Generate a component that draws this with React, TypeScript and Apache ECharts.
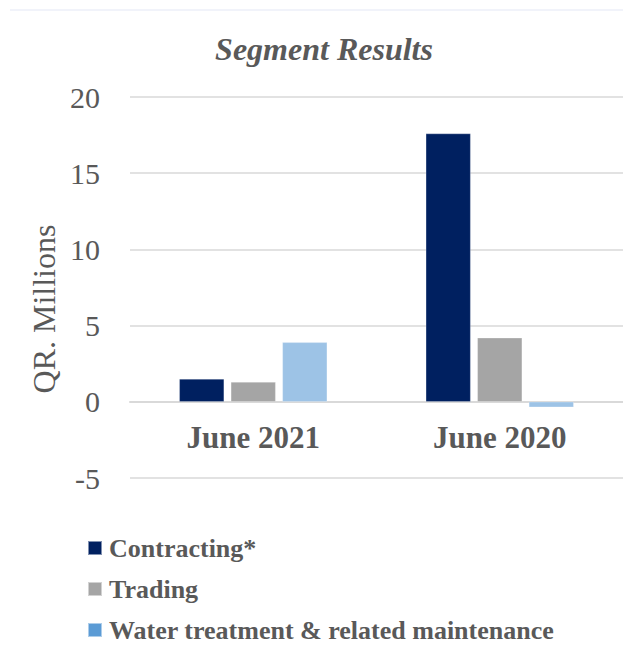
import React, { useEffect, useRef } from "react";
import * as echarts from "echarts";

const categories = ["June 2021", "June 2020"];
const contracting = [1.5, 17.6];
const trading = [1.3, 4.2];
const water = [3.9, -0.35];
const seriesNames = ["Contracting*", "Trading", "Water treatment & related maintenance"];
const yTicks = { min: -5, max: 20, interval: 5 };

const FONT = '"Liberation Serif", "Times New Roman", serif';
const TEXT = "#595959";
const GRID_TOP = 97;
const GRID_BOTTOM_PX = 478;

export default function App() {
  const ref = useRef<HTMLDivElement>(null);
  useEffect(() => {
    document.body.style.margin = "0";
    const chart = echarts.init(ref.current!, null, { renderer: "svg" });
    // distance from the bottom of the grid (min value) up to the zero line
    const zeroOffset =
      ((0 - yTicks.min) / (yTicks.max - yTicks.min)) * (GRID_BOTTOM_PX - GRID_TOP);
    chart.setOption({
      animation: false,
      backgroundColor: "#ffffff",
      title: {
        text: "Segment Results",
        left: 324,
        top: 33,
        padding: 0,
        textAlign: "center",
        textStyle: {
          fontFamily: FONT,
          fontSize: 32,
          fontWeight: "bold",
          fontStyle: "italic",
          color: TEXT,
        },
      },
      legend: {
        orient: "vertical",
        left: 87,
        top: 535,
        padding: 0,
        itemWidth: 14,
        itemHeight: 14,
        itemGap: 15,
        icon: "rect",
        data: [
          { name: seriesNames[0], itemStyle: { color: "#002060" } },
          { name: seriesNames[1], itemStyle: { color: "#A5A5A5" } },
          { name: seriesNames[2], itemStyle: { color: "#5B9BD5" } },
        ],
        textStyle: {
          fontFamily: FONT,
          fontSize: 26,
          fontWeight: "bold",
          color: TEXT,
          lineHeight: 26,
          padding: [0, 0, 0, 2],
        },
      },
      grid: { left: 130, right: -7, top: GRID_TOP, bottom: 647 - GRID_BOTTOM_PX, containLabel: false },
      xAxis: {
        type: "category",
        data: categories,
        offset: -zeroOffset,
        axisLine: { onZero: false, lineStyle: { color: "#D9D9D9", width: 2 } },
        axisTick: { show: false },
        axisLabel: {
          margin: 20,
          fontFamily: FONT,
          fontSize: 31,
          fontWeight: "bold",
          color: TEXT,
        },
      },
      yAxis: {
        type: "value",
        min: yTicks.min,
        max: yTicks.max,
        interval: yTicks.interval,
        axisLine: { show: false },
        axisTick: { show: false },
        splitLine: { lineStyle: { color: "#D9D9D9", width: 1.5 } },
        axisLabel: {
          margin: 30,
          fontFamily: FONT,
          fontSize: 30,
          color: TEXT,
        },
      },
      graphic: [
        {
          type: "line",
          shape: { x1: 10, y1: 10, x2: 623, y2: 10 },
          style: { stroke: "#F1F3FA", lineWidth: 2 },
          silent: true,
        },
        {
          type: "line",
          shape: { x1: 10, y1: 10, x2: 10, y2: 647 },
          style: {
            stroke: new echarts.graphic.LinearGradient(0, 0, 0, 1, [
              { offset: 0, color: "#F1F3FA" },
              { offset: 1, color: "#C3D5F3" },
            ]),
            lineWidth: 2,
          },
          silent: true,
        },
        {
          type: "text",
          x: 44,
          y: 309,
          rotation: Math.PI / 2,
          style: {
            text: "QR. Millions",
            fontFamily: FONT,
            fontSize: 32,
            fill: TEXT,
            textAlign: "center",
            textVerticalAlign: "middle",
          },
        },
      ],
      series: [
        {
          name: seriesNames[0],
          type: "bar",
          data: contracting,
          barCategoryGap: "40%",
          barGap: "15%",
          itemStyle: { color: "#002060", borderColor: "rgba(255,255,255,0.5)", borderWidth: 0.5 },
        },
        {
          name: seriesNames[1],
          type: "bar",
          data: trading,
          barCategoryGap: "40%",
          barGap: "15%",
          itemStyle: { color: "#A5A5A5", borderColor: "rgba(255,255,255,0.5)", borderWidth: 0.5 },
        },
        {
          name: seriesNames[2],
          type: "bar",
          data: water,
          barCategoryGap: "40%",
          barGap: "15%",
          itemStyle: { color: "#9DC3E6", borderColor: "rgba(255,255,255,0.5)", borderWidth: 0.5 },
        },
      ],
    });
    return () => chart.dispose();
  }, []);
  return <div ref={ref} style={{ width: 623, height: 647 }} />;
}
